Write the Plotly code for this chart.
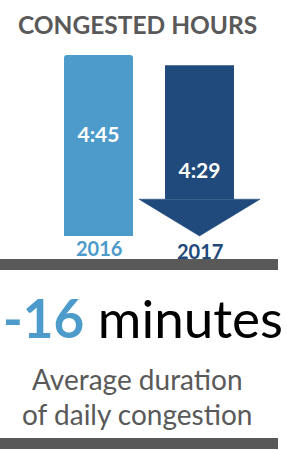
import plotly.graph_objects as go

# ---- data ----
years = ["2016", "2017"]
minutes = [285, 269]            # 4:45 and 4:29 in minutes
labels = ["4:45", "4:29"]
change_label = "-16"
title_text = "CONGESTED HOURS"
subtitle_lines = ["Average duration", "of daily congestion"]

LIGHT = "#4C9BCA"
DARK = "#1F4A7B"
GRAY = "#595959"
FONT = "Lato"

W, H = 287, 450
head_h = 58          # arrowhead height in minutes
head_half = 0.60     # arrowhead half width in category units
bar_w = 0.683
label_frac = [0.547, 0.37]   # vertical position of value labels within mark

fig = go.Figure()

# 2016 bar
fig.add_trace(go.Bar(
    x=[0], y=[minutes[0]], width=[bar_w],
    marker=dict(color=LIGHT, line=dict(width=0)),
    hoverinfo="skip",
))
# 2017 arrow shaft
fig.add_trace(go.Bar(
    x=[1], y=[minutes[1] - head_h], base=[head_h], width=[bar_w],
    marker=dict(color=DARK, line=dict(width=0), cornerradius=0),
    hoverinfo="skip",
))
# arrowhead
fig.add_trace(go.Scatter(
    x=[1 - head_half, 1 + head_half, 1, 1 - head_half],
    y=[head_h, head_h, 0, head_h],
    fill="toself", fillcolor=DARK, mode="lines",
    line=dict(color=DARK, width=0.5), hoverinfo="skip",
))
# value labels
fig.add_trace(go.Scatter(
    x=[0, 1], y=[minutes[0] * label_frac[0], minutes[1] * label_frac[1]],
    mode="text", text=labels,
    textfont=dict(family=FONT, size=21, color="white", weight="bold"),
    hoverinfo="skip",
))

scale = 181 / minutes[0]
y0 = -4 / scale
y1 = 196 / scale
cat_px = 101
x_left = -98.5 / cat_px
x_right = (287 - 98.5) / cat_px

fig.update_layout(
    width=W, height=H,
    margin=dict(l=0, r=0, t=0, b=0),
    paper_bgcolor="white", plot_bgcolor="white",
    showlegend=False,
    barmode="overlay",
    barcornerradius=3,
    xaxis=dict(range=[x_left, x_right], visible=False, domain=[0, 1]),
    yaxis=dict(range=[y0, y1], visible=False, domain=[1 - 240 / H, 1 - 40 / H]),
)

def ann(x, y, text, font, xref="paper", xanchor="center"):
    fig.add_annotation(x=x, y=y, xref=xref, yref="paper", text=text, showarrow=False,
                       xanchor=xanchor, yanchor="middle", font=font)

# year labels under bars
ann(0, 1 - 248 / H, "<b>%s</b>" % years[0], dict(family=FONT, size=20, color=LIGHT), xref="x")
ann(1, 1 - 251 / H, "<b>%s</b>" % years[1], dict(family=FONT, size=20, color=DARK), xref="x")

# title
ann(137 / W, 1 - 24 / H, "<b>%s</b>" % title_text, dict(family=FONT, size=24.5, color=GRAY))

# gray rules
for top, bot in [(259, 270), (438, 449)]:
    fig.add_shape(type="rect", xref="paper", yref="paper",
                  x0=0, x1=278 / W, y0=1 - bot / H, y1=1 - top / H,
                  fillcolor=GRAY, line=dict(width=0))

# big change text
ann(1 / W, 1 - 317 / H,
    "<b><span style='color:%s'>%s</span></b> minutes" % (LIGHT, change_label),
    dict(family=FONT, size=53, color="black"), xanchor="left")

# subtitle
for i, line in enumerate(subtitle_lines):
    ann(137 / W, 1 - (379 + 35 * i) / H, line, dict(family=FONT, size=28, color=GRAY))

fig.write_html("out.html", config={"displayModeBar": False},
               post_script="document.body.style.margin='0';")
